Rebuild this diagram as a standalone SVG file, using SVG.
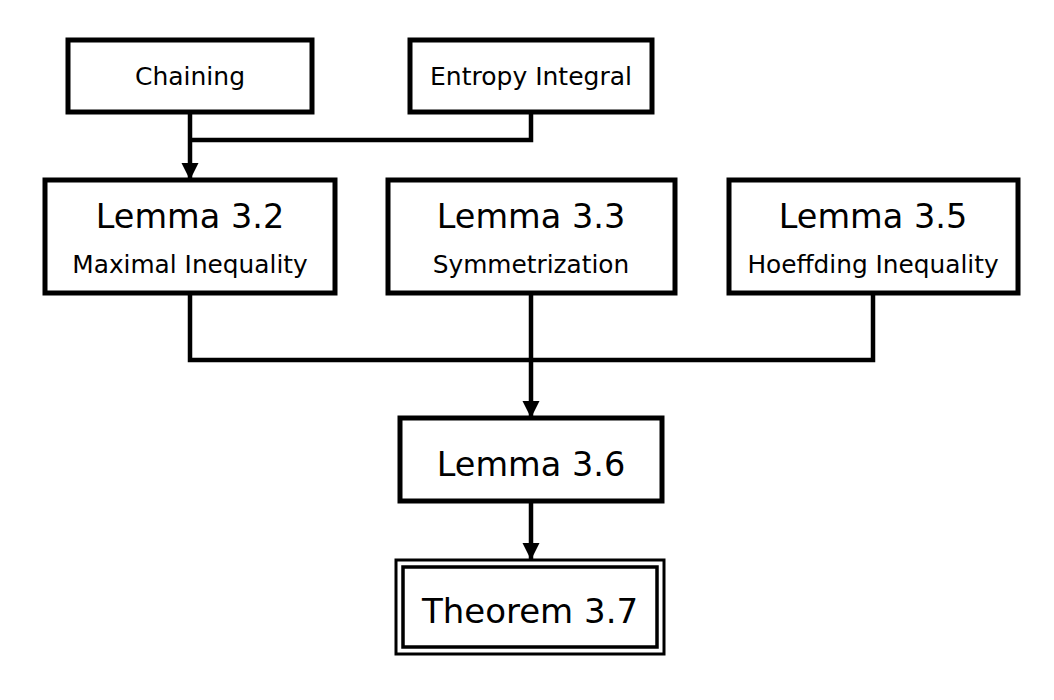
<svg xmlns="http://www.w3.org/2000/svg" width="1054" height="700" viewBox="0 0 1054 700">
<defs>
<style>
.box{fill:#fff;stroke:#000;stroke-width:5}
.ln{fill:none;stroke:#000;stroke-width:4.5}
.t{font-family:"DejaVu Sans","Liberation Sans",sans-serif;fill:#000;text-anchor:middle}
.big{font-size:33.5px}
.sm{font-size:24.8px}
.top{font-size:25px}
.th{font-size:34px}
</style>
<marker id="ah" viewBox="0 0 10 10" refX="10" refY="5" markerWidth="3.8" markerHeight="3.8" orient="auto" markerUnits="strokeWidth">
<path d="M0,0 L10,5 L0,10 z" fill="#000"/>
</marker>
</defs>
<g id="connectors">
<path class="ln" d="M190,112 V180" marker-end="url(#ah)"/>
<path class="ln" d="M531,112 V140 H190"/>
<path class="ln" d="M190,293 V360 H873 V293"/>
<path class="ln" d="M531,293 V418" marker-end="url(#ah)"/>
<path class="ln" d="M531,501 V560" marker-end="url(#ah)"/>
</g>
<g id="chaining">
<rect class="box" x="68" y="40" width="244" height="72"/>
<text class="t top" x="190" y="85">Chaining</text>
</g>
<g id="entropy">
<rect class="box" x="410" y="40" width="242" height="72"/>
<text class="t top" x="531" y="85">Entropy Integral</text>
</g>
<g id="lemma32">
<rect class="box" x="45" y="180" width="290" height="113"/>
<text class="t big" x="190" y="228">Lemma 3.2</text>
<text class="t sm" x="190" y="273">Maximal Inequality</text>
</g>
<g id="lemma33">
<rect class="box" x="388" y="180" width="287" height="113"/>
<text class="t big" x="531" y="228">Lemma 3.3</text>
<text class="t sm" x="531" y="273">Symmetrization</text>
</g>
<g id="lemma35">
<rect class="box" x="729" y="180" width="289" height="113"/>
<text class="t big" x="873" y="228">Lemma 3.5</text>
<text class="t sm" x="873" y="273">Hoeffding Inequality</text>
</g>
<g id="lemma36">
<rect class="box" x="400" y="418" width="262" height="83"/>
<text class="t big" x="531" y="476">Lemma 3.6</text>
</g>
<g id="theorem37">
<rect class="box" x="396" y="560" width="268" height="94" style="stroke-width:3"/>
<rect class="box" x="403" y="567" width="254" height="80" style="stroke-width:3.5"/>
<text class="t th" x="530" y="623">Theorem 3.7</text>
</g>
</svg>
